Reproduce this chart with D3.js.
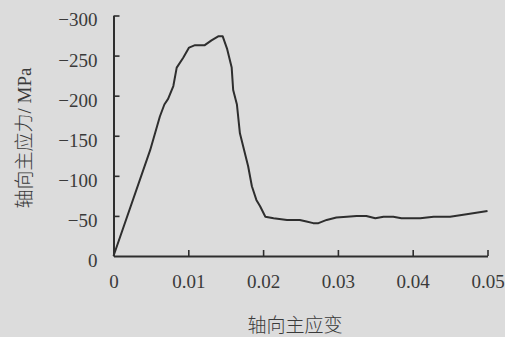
<!DOCTYPE html>
<html>
<head>
<meta charset="utf-8">
<script src="https://cdn.jsdelivr.net/npm/d3@7/dist/d3.min.js"></script>
<style>
  html, body { margin: 0; padding: 0; background: #dcdcdc; }
  svg { display: block; }
  .num { font-family: "Liberation Serif", "Times New Roman", Times, serif; font-size: 19px; }
  .cjk { font-family: "Liberation Serif", "Times New Roman", "Noto Sans CJK SC", serif; font-size: 19px; font-weight: 300; }
</style>
</head>
<body>
<svg id="chart" width="505" height="337"></svg>
<script>
// Data
const strain = [0, 0.0049, 0.0062, 0.0068, 0.0073, 0.0080, 0.00845, 0.0093, 0.0101, 0.0109, 0.0122, 0.0131, 0.0140, 0.0146, 0.0152, 0.0158, 0.0160, 0.0165, 0.0169, 0.0180, 0.0185, 0.0191, 0.0196, 0.0203, 0.0214, 0.0232, 0.0249, 0.0258, 0.0267, 0.0274, 0.0285, 0.0298, 0.0312, 0.0325, 0.0338, 0.0350, 0.0361, 0.0374, 0.0385, 0.0410, 0.0428, 0.0450, 0.0472, 0.0500];
const stress = [0, -132, -174, -189, -196, -212, -235, -247, -260, -263, -263, -269, -274, -274, -258, -235, -207, -189, -153, -112, -87, -70, -62, -49, -47, -45, -45, -43, -41, -41, -45, -48, -49, -50, -50, -47, -49, -49, -47, -47, -49, -49, -52, -56];
const xTicks = [0, 0.01, 0.02, 0.03, 0.04, 0.05];
const yTicks = [0, -50, -100, -150, -200, -250, -300];
const xTitle = "轴向主应变";
const yTitle = "轴向主应力/ MPa";

const svg = d3.select("#chart");
const x = d3.scaleLinear().domain([0, 0.05]).range([113.5, 487.5]);
const y = d3.scaleLinear().domain([0, -300]).range([256, 15.5]);

const axisColor = "#2e2e2e";
const textColor = "#3a3a3a";

// Y axis
const yAxis = d3.axisLeft(y)
  .tickValues(yTicks)
  .tickSizeInner(-6)
  .tickSizeOuter(0)
  .tickPadding(16)
  .tickFormat(d => d === 0 ? "0" : "\u2212" + Math.abs(d));
const gy = svg.append("g").attr("transform", "translate(" + x(0) + ",0)").call(yAxis);

// X axis
const xAxis = d3.axisBottom(x)
  .tickValues(xTicks)
  .tickSizeInner(-6)
  .tickSizeOuter(0)
  .tickPadding(30)
  .tickFormat(d => d === 0 ? "0" : d3.format(".2f")(d));
const gx = svg.append("g").attr("transform", "translate(0," + y(0) + ")").call(xAxis);

[gx, gy].forEach(g => {
  g.attr("font-family", null).attr("font-size", null);
  g.select(".domain").attr("stroke", axisColor).attr("stroke-width", 2);
  g.selectAll(".tick line").attr("stroke", axisColor).attr("stroke-width", 1.6);
  g.selectAll(".tick text")
    .attr("class", "num")
    .attr("fill", textColor);
});
gy.selectAll(".tick text").attr("dy", "0.55em");
gx.selectAll(".tick text").attr("dy", "0.1em");
gx.selectAll(".tick").filter(d => d === 0).select("line").remove();
gy.selectAll(".tick").filter(d => d === 0).select("line").remove();

// Curve
const line = d3.line().x((d, i) => x(strain[i])).y((d, i) => y(stress[i]));
svg.append("path")
  .datum(stress)
  .attr("d", line)
  .attr("fill", "none")
  .attr("stroke", "#2e2e2e")
  .attr("stroke-width", 2)
  .attr("stroke-linejoin", "round");

// Titles
svg.append("text")
  .attr("class", "cjk")
  .attr("x", 295).attr("y", 332)
  .attr("text-anchor", "middle")
  .attr("fill", textColor)
  .text(xTitle);

svg.append("text")
  .attr("class", "cjk")
  .attr("transform", "translate(31,138) rotate(-90)")
  .attr("text-anchor", "middle")
  .attr("fill", textColor)
  .text(yTitle);
</script>
</body>
</html>
